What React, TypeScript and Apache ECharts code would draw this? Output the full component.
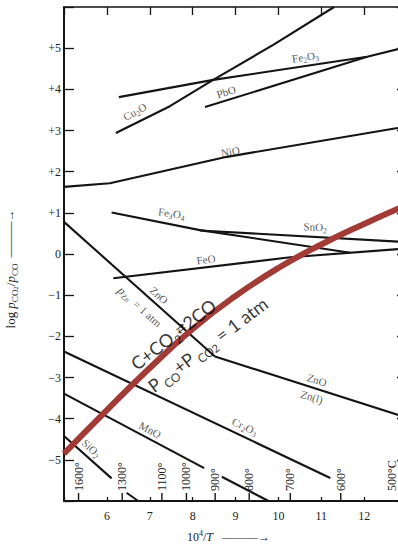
import React, { useEffect, useRef } from 'react';
import * as echarts from 'echarts';

// Axis ranges and tick values
const X_MIN = 5;
const X_MAX = 13;
const Y_MIN = -6;
const Y_MAX = 6;
const xTickLabels = [6, 7, 8, 9, 10, 11, 12];
const yTickLabels = [-5, -4, -3, -2, -1, 0, 1, 2, 3, 4, 5];

// Temperature markers along the bottom axis (degrees C)
const tempsC = [1600, 1300, 1100, 1000, 900, 800, 700, 600, 500];

// Equilibrium lines: [10^4/T, log(pCO2/pCO)]
const cu2o = [[6.21, 2.94], [7.47, 3.59], [8.48, 4.23], [9.88, 5.08], [11.3, 6.0]];
const fe2o3 = [[6.28, 3.81], [8.48, 4.23], [12.07, 4.79], [12.8, 4.98], [13, 5.03]];
const pbo = [[8.29, 3.57], [12.07, 4.79]];
const nio = [[5, 1.63], [6.07, 1.72], [8.8, 2.36], [12.78, 3.06], [13, 3.1]];
const fe3o4 = [[6.11, 1.01], [8.17, 0.58], [11.68, 0.03]];
const sno2 = [[8.17, 0.57], [12.8, 0.3], [13, 0.29]];
const feo = [[6.15, -0.59], [10.28, -0.08], [12.8, 0.12], [13, 0.13]];
const znoGas = [[5, 0.78], [8.52, -2.49]];
const znoLiq = [[8.52, -2.49], [12.8, -3.91], [13, -3.97]];
const cr2o3 = [[5, -2.37], [11.21, -5.44]];
const mnoA = [[5, -3.39], [8.27, -5.2]];
const mnoB = [[8.68, -5.41], [9.77, -6.0]];
const sio2A = [[5, -4.42], [6.11, -5.45]];
const sio2B = [[6.46, -5.8], [6.73, -6.0]];

// Boudouard equilibrium C + CO2 = 2CO at 1 atm
const boudouard = [
  [5, -4.85], [6, -3.79], [7, -2.77], [8, -1.82], [9, -1.02],
  [10, -0.34], [11, 0.23], [12, 0.73], [13, 1.19],
];

// Line labels: text, x, y, rotation (deg)
const lineLabels: [string, number, number, number][] = [
  ['Cu{s|2}O', 6.65, 3.46, 28],
  ['Fe{s|2}O{s|3}', 10.63, 4.79, 8],
  ['PbO', 8.78, 3.94, 17],
  ['NiO', 8.88, 2.49, 10],
  ['Fe{s|3}O{s|4}', 7.51, 0.99, -8],
  ['SnO{s|2}', 10.86, 0.66, -3],
  ['FeO', 8.31, -0.13, 7],
  ['ZnO', 7.22, -1.0, -42],
  ['{i|p}{s|Zn}  = 1 atm', 6.77, -1.28, -42],
  ['ZnO', 10.9, -3.06, -17],
  ['Zn(l)', 10.78, -3.47, -17],
  ['Cr{s|2}O{s|3}', 9.22, -4.19, -25],
  ['MnO', 7.01, -4.27, -28],
  ['SiO{s|2}', 5.64, -4.72, -42],
];

const bigLabels: [string, number, number, number][] = [
  ['C+CO{s|2}{ar|\u21C4}2CO', 7.55, -1.95, 38],
  ['P{s| CO}+P{s| CO}{ss|2} = 1 atm', 8.35, -2.2, 37],
];

const SERIF = '"Liberation Serif", "DejaVu Serif", serif';
const BLACK = '#141414';

function lineSeries(data: number[][]) {
  return {
    type: 'line',
    data,
    showSymbol: false,
    symbol: 'none',
    silent: true,
    z: 3,
    lineStyle: { color: BLACK, width: 2.1 },
  };
}

export default function App() {
  const ref = useRef<HTMLDivElement>(null);

  useEffect(() => {
    if (!ref.current) return;
    const chart = echarts.init(ref.current, undefined, { renderer: 'svg' });

    const option: any = {
      animation: false,
      backgroundColor: '#ffffff',
      grid: { left: 64, right: 6, top: 7, bottom: 45, containLabel: false, outerBoundsMode: 'none' },
      xAxis: [
        {
          type: 'value',
          min: X_MIN,
          max: X_MAX,
          interval: 1,
          position: 'bottom',
          axisLine: { show: true, onZero: false, lineStyle: { color: BLACK, width: 2 } },
          axisTick: { show: true, inside: true, length: 4, lineStyle: { color: BLACK, width: 1.3 } },
          splitLine: { show: false },
          axisLabel: {
            color: '#222',
            fontFamily: SERIF,
            fontSize: 12,
            margin: 9,
            formatter: (v: number) => (xTickLabels.includes(v) ? String(v) : ''),
          },
          name: '{t|10}{sup|4}{t|/}{it|T}{a|   \u2014\u2014\u2014\u2192}',
          nameLocation: 'middle',
          nameGap: 28,
          nameTextStyle: {
            padding: [0, 14, 0, 0],
            rich: {
              t: { fontFamily: SERIF, fontSize: 12, color: '#222', lineHeight: 16 },
              sup: { fontFamily: SERIF, fontSize: 8, color: '#222', lineHeight: 8, verticalAlign: 'top' },
              it: { fontFamily: SERIF, fontSize: 12, fontStyle: 'italic', color: '#222', lineHeight: 16 },
              a: { fontFamily: SERIF, fontSize: 12, color: '#222', lineHeight: 16 },
            },
          },
        },
        {
          type: 'value',
          min: X_MIN,
          max: X_MAX,
          interval: 1,
          position: 'top',
          axisLine: { show: true, onZero: false, lineStyle: { color: BLACK, width: 1.6 } },
          axisTick: { show: true, inside: true, length: 8, lineStyle: { color: BLACK, width: 1.3 } },
          axisLabel: { show: false },
          splitLine: { show: false },
        },
      ],
      yAxis: [
        {
          type: 'value',
          min: Y_MIN,
          max: Y_MAX,
          interval: 1,
          position: 'left',
          axisLine: { show: true, onZero: false, lineStyle: { color: BLACK, width: 2 } },
          axisTick: { show: true, inside: true, length: 10, lineStyle: { color: BLACK, width: 1.3 } },
          splitLine: { show: false },
          axisLabel: {
            color: '#222',
            fontFamily: SERIF,
            fontSize: 12,
            margin: 3,
            formatter: (v: number) => {
              if (!yTickLabels.includes(v)) return '';
              if (v > 0) return '+' + v;
              if (v < 0) return '\u2212' + Math.abs(v);
              return '0';
            },
          },
          name: '{t|log }{i|p}{s|CO}{ss|2}{t|/}{i|p}{s|CO}{a|  \u2014\u2014\u2014\u2192}',
          nameLocation: 'middle',
          nameRotate: 90,
          nameGap: 45,
          nameTextStyle: {
            padding: [0, 30, 0, 0],
            rich: {
              t: { fontFamily: SERIF, fontSize: 13, color: '#222', lineHeight: 18 },
              i: { fontFamily: SERIF, fontSize: 13, fontStyle: 'italic', color: '#222', lineHeight: 18 },
              s: { fontFamily: SERIF, fontSize: 9, color: '#222', lineHeight: 10, verticalAlign: 'bottom' },
              ss: { fontFamily: SERIF, fontSize: 7, color: '#222', lineHeight: 6, verticalAlign: 'bottom' },
              a: { fontFamily: SERIF, fontSize: 12, color: '#222', lineHeight: 18 },
            },
          },
        },
        {
          type: 'value',
          min: Y_MIN,
          max: Y_MAX,
          interval: 1,
          position: 'right',
          axisLine: { show: true, onZero: false, lineStyle: { color: BLACK, width: 2 } },
          axisTick: { show: true, inside: true, length: 10, lineStyle: { color: BLACK, width: 1.3 } },
          axisLabel: { show: false },
          splitLine: { show: false },
        },
      ],
      series: [
        lineSeries(cu2o),
        lineSeries(fe2o3),
        lineSeries(pbo),
        lineSeries(nio),
        lineSeries(fe3o4),
        lineSeries(sno2),
        lineSeries(feo),
        lineSeries(znoGas),
        lineSeries(znoLiq),
        lineSeries(cr2o3),
        lineSeries(mnoA),
        lineSeries(mnoB),
        lineSeries(sio2A),
        lineSeries(sio2B),
        {
          type: 'line',
          data: boudouard,
          smooth: 0.5,
          showSymbol: false,
          symbol: 'none',
          silent: true,
          z: 5,
          lineStyle: { color: '#a23a36', width: 6 },
        },
        {
          type: 'custom',
          silent: true,
          clip: false,
          z: 6,
          data: tempsC.map((t) => [1e4 / (t + 273), t]),
          renderItem: (params: any, api: any) => {
            const x = api.value(0);
            const t = api.value(1);
            const p = api.coord([x, Y_MIN]);
            const tx = Math.min(p[0], 392);
            return {
              type: 'group',
              children: [
                {
                  type: 'line',
                  shape: { x1: p[0], y1: p[1], x2: p[0], y2: p[1] - 8 },
                  style: { stroke: BLACK, lineWidth: 1.4 },
                },
                {
                  type: 'text',
                  x: tx,
                  y: p[1] - 10,
                  rotation: Math.PI / 2,
                  style: {
                    text: t === 500 ? '500\u00B0C' : t + '\u00B0',
                    align: 'left',
                    verticalAlign: 'middle',
                    font: '12px "Liberation Serif", serif',
                    fill: '#222',
                  },
                },
              ],
            };
          },
        },
        {
          type: 'scatter',
          silent: true,
          symbolSize: 1,
          itemStyle: { color: 'rgba(0,0,0,0)' },
          z: 7,
          data: lineLabels.map(([t, x, y, r]) => ({
            value: [x, y],
            label: { formatter: t, rotate: r },
          })),
          label: {
            show: true,
            position: 'inside',
            fontFamily: SERIF,
            fontSize: 11,
            color: '#2a2a2a',
            lineHeight: 15,
            rich: {
              s: { fontFamily: SERIF, fontSize: 8, color: '#2a2a2a', lineHeight: 8, verticalAlign: 'bottom' },
              i: { fontFamily: SERIF, fontSize: 12, fontStyle: 'italic', color: '#2a2a2a', lineHeight: 15 },
            },
          },
        },
        {
          type: 'scatter',
          silent: true,
          symbolSize: 1,
          itemStyle: { color: 'rgba(0,0,0,0)' },
          z: 8,
          data: bigLabels.map(([t, x, y, r]) => ({
            value: [x, y],
            label: { formatter: t, rotate: r },
          })),
          label: {
            show: true,
            position: 'inside',
            fontFamily: 'Lato, "Open Sans", sans-serif',
            fontSize: 18,
            color: '#000',
            lineHeight: 26,
            rich: {
              s: { fontFamily: 'Lato, sans-serif', fontSize: 12, color: '#000', lineHeight: 12, verticalAlign: 'bottom' },
              ss: { fontFamily: 'Lato, sans-serif', fontSize: 11, color: '#000', lineHeight: 8, verticalAlign: 'bottom' },
              ar: { fontFamily: '"DejaVu Sans", sans-serif', fontSize: 12, color: '#000', lineHeight: 26 },
            },
          },
        },
      ],
    };

    chart.setOption(option);
    return () => chart.dispose();
  }, []);

  return (
    <div style={{ position: 'fixed', left: 0, top: 0, width: 398, height: 546, overflow: 'hidden', background: '#fff' }}>
      <div ref={ref} style={{ width: 413, height: 546 }} />
    </div>
  );
}
